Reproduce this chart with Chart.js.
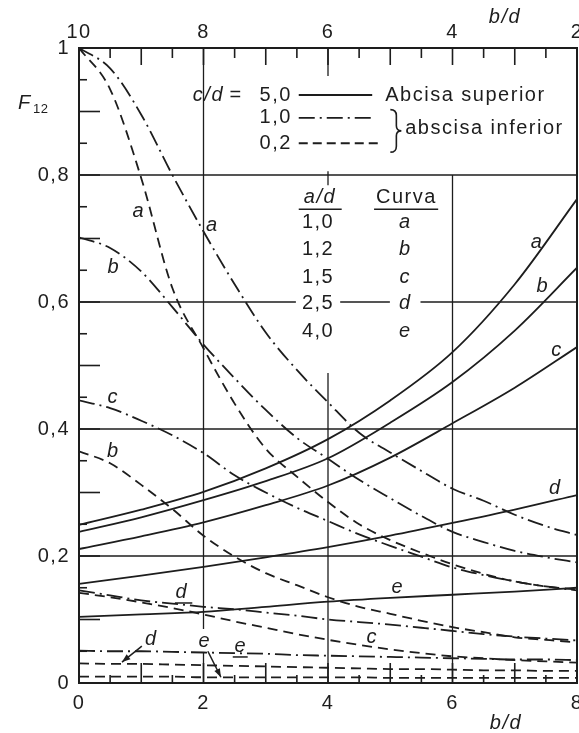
<!DOCTYPE html>
<html>
<head>
<meta charset="utf-8">
<script src="https://cdn.jsdelivr.net/npm/chart.js@4.4.1/dist/chart.umd.min.js"></script>
<style>
  html, body { margin: 0; padding: 0; background: #fff; }
  #wrap { width: 579px; height: 733px; }
</style>
</head>
<body>
<div id="wrap"><canvas id="f12" width="579" height="733"></canvas></div>
<script>
const INK = '#1d1d1d';
const FONT = '"Liberation Sans", Arial, sans-serif';

// b/d on the lower abscissa (c/d = 1,0 and 0,2)
const bdLower = [0, 0.5, 1, 1.5, 2, 2.5, 3, 3.5, 4, 4.5, 5, 5.5, 6, 6.5, 7, 7.5, 8];
// b/d on the upper abscissa (c/d = 5,0)
const bdUpper = [10, 9, 8, 7, 6, 5, 4, 3, 2];

// c/d = 5,0 (solid), one array per a/d
const cd50_a = [0.249, 0.273, 0.301, 0.338, 0.384, 0.445, 0.521, 0.628, 0.762];
const cd50_b = [0.238, 0.261, 0.288, 0.318, 0.354, 0.410, 0.474, 0.555, 0.654];
const cd50_c = [0.211, 0.231, 0.253, 0.280, 0.311, 0.355, 0.409, 0.465, 0.529];
const cd50_d = [0.156, 0.169, 0.183, 0.198, 0.214, 0.232, 0.252, 0.273, 0.296];
const cd50_e = [0.104, 0.108, 0.112, 0.120, 0.128, 0.134, 0.139, 0.144, 0.150];

// c/d = 1,0 (dash-dot)
const cd10_a = [1.000, 0.968, 0.895, 0.800, 0.711, 0.628, 0.552, 0.493, 0.442, 0.394, 0.363, 0.334, 0.306, 0.287, 0.265, 0.247, 0.233];
const cd10_b = [0.702, 0.685, 0.648, 0.592, 0.533, 0.480, 0.430, 0.386, 0.353, 0.320, 0.291, 0.263, 0.238, 0.222, 0.208, 0.198, 0.190];
const cd10_c = [0.445, 0.433, 0.413, 0.390, 0.362, 0.327, 0.300, 0.276, 0.255, 0.234, 0.216, 0.199, 0.182, 0.170, 0.160, 0.152, 0.146];
const cd10_d = [0.146, 0.138, 0.130, 0.125, 0.120, 0.116, 0.111, 0.106, 0.100, 0.096, 0.092, 0.087, 0.082, 0.077, 0.073, 0.070, 0.067];
const cd10_e = [0.051, 0.050, 0.050, 0.049, 0.048, 0.047, 0.046, 0.044, 0.043, 0.042, 0.041, 0.040, 0.039, 0.038, 0.037, 0.037, 0.036];

// c/d = 0,2 (dashed)
const cd02_a = [1.000, 0.935, 0.795, 0.622, 0.527, 0.440, 0.369, 0.325, 0.285, 0.250, 0.225, 0.205, 0.187, 0.172, 0.160, 0.152, 0.147];
const cd02_b = [0.365, 0.346, 0.312, 0.274, 0.232, 0.199, 0.173, 0.154, 0.135, 0.120, 0.109, 0.098, 0.088, 0.080, 0.072, 0.068, 0.064];
const cd02_c = [0.142, 0.135, 0.127, 0.118, 0.108, 0.097, 0.087, 0.077, 0.068, 0.060, 0.053, 0.047, 0.042, 0.039, 0.036, 0.034, 0.032];
const cd02_d = [0.031, 0.030, 0.030, 0.029, 0.028, 0.027, 0.026, 0.025, 0.024, 0.023, 0.022, 0.022, 0.021, 0.020, 0.020, 0.019, 0.019];
const cd02_e = [0.010, 0.010, 0.010, 0.010, 0.009, 0.009, 0.009, 0.009, 0.009, 0.009, 0.008, 0.008, 0.008, 0.008, 0.008, 0.008, 0.008];

const yTicks = [0, 0.2, 0.4, 0.6, 0.8, 1];
const legendRows = [['5,0', 'solid', 'Abcisa superior'], ['1,0', 'dashdot'], ['0,2', 'dashed']];
const curveTable = [['1,0', 'a'], ['1,2', 'b'], ['1,5', 'c'], ['2,5', 'd'], ['4,0', 'e']];

const DASH = [10, 6];
const DASH_DOT = [16, 5, 2, 5];

const pts = (xs, ys) => xs.map((x, i) => ({ x, y: ys[i] }));

function series(label, xs, ys, dash, axis) {
  return {
    label,
    data: pts(xs, ys),
    xAxisID: axis,
    borderColor: INK,
    borderWidth: 1.8,
    borderDash: dash,
    pointRadius: 0,
    fill: false,
    cubicInterpolationMode: 'monotone'
  };
}

const datasets = [
  series('5,0 a', bdUpper, cd50_a, [], 'xTop'),
  series('5,0 b', bdUpper, cd50_b, [], 'xTop'),
  series('5,0 c', bdUpper, cd50_c, [], 'xTop'),
  series('5,0 d', bdUpper, cd50_d, [], 'xTop'),
  series('5,0 e', bdUpper, cd50_e, [], 'xTop'),
  series('1,0 a', bdLower, cd10_a, DASH_DOT, 'x'),
  series('1,0 b', bdLower, cd10_b, DASH_DOT, 'x'),
  series('1,0 c', bdLower, cd10_c, DASH_DOT, 'x'),
  series('1,0 d', bdLower, cd10_d, DASH_DOT, 'x'),
  series('1,0 e', bdLower, cd10_e, DASH_DOT, 'x'),
  series('0,2 a', bdLower, cd02_a, DASH, 'x'),
  series('0,2 b', bdLower, cd02_b, DASH, 'x'),
  series('0,2 c', bdLower, cd02_c, DASH, 'x'),
  series('0,2 d', bdLower, cd02_d, DASH, 'x'),
  series('0,2 e', bdLower, cd02_e, DASH, 'x')
];

// letters next to the curves (lower b/d, F12)
const curveTags = [
  ['a', 0.96, 0.742], ['a', 2.14, 0.721], ['b', 0.56, 0.654], ['c', 0.55, 0.450], ['b', 0.55, 0.364],
  ['a', 7.36, 0.694], ['b', 7.45, 0.624], ['c', 7.68, 0.524], ['d', 7.65, 0.307], ['e', 5.12, 0.150],
  ['d', 1.65, 0.143], ['d', 1.16, 0.068], ['e', 2.02, 0.065], ['e', 2.60, 0.057], ['c', 4.71, 0.072]
];
const tagUnderlines = [[1.54, 1.82, 0.126], [2.47, 2.71, 0.041]];
const tagArrows = [[1.01, 0.058, 0.69, 0.033], [2.07, 0.050, 2.28, 0.009]];

// partial vertical rules: [b/d, from F12, to F12]
const ruleX = [[2, 1, 0.085], [2, 0.048, 0], [4, 1, 0.956], [4, 0.806, 0.784], [4, 0.488, 0], [6, 0.8, 0]];
const ruleY = [0.2, 0.4, 0.6, 0.8];

function seg(ctx, x1, y1, x2, y2) {
  ctx.beginPath();
  ctx.moveTo(x1, y1);
  ctx.lineTo(x2, y2);
  ctx.stroke();
}

const frame = {
  id: 'frame',
  beforeDraw(chart) {
    chart.ctx.letterSpacing = '1.5px';
  },
  beforeDatasetsDraw(chart) {
    const { ctx, chartArea: a, scales: { x, y } } = chart;
    ctx.save();
    ctx.strokeStyle = INK;
    ctx.lineWidth = 1.3;
    ruleY.forEach(v => seg(ctx, a.left, y.getPixelForValue(v), a.right, y.getPixelForValue(v)));
    ruleX.forEach(([v, f, t]) => seg(ctx, x.getPixelForValue(v), y.getPixelForValue(f), x.getPixelForValue(v), y.getPixelForValue(t)));

    // inward ticks on the bottom and top axes, every 0,5
    ctx.lineWidth = 1.6;
    for (let i = 1; i < 16; i++) {
      const px = x.getPixelForValue(i / 2);
      const whole = i % 2 === 0;
      seg(ctx, px, a.bottom, px, a.bottom - (whole ? 20 : 8));
      seg(ctx, px, a.top, px, a.top + (whole ? 17 : 10));
    }
    // inward ticks on the left axis, every 0,05
    for (let i = 1; i < 20; i++) {
      const py = y.getPixelForValue(i / 20);
      seg(ctx, a.left, py, a.left + (i % 2 === 0 ? 21 : 8), py);
    }

    ctx.lineWidth = 2;
    ctx.strokeRect(a.left, a.top, a.right - a.left, a.bottom - a.top);
    ctx.restore();
  }
};

const notes = {
  id: 'notes',
  afterDatasetsDraw(chart) {
    const { ctx, chartArea: a, scales: { x, y } } = chart;
    const X = v => x.getPixelForValue(v);
    const Y = v => y.getPixelForValue(v);
    ctx.save();
    ctx.letterSpacing = '1.5px';
    ctx.fillStyle = INK;
    ctx.strokeStyle = INK;
    ctx.textBaseline = 'middle';
    ctx.lineWidth = 1.5;

    // curve letters
    ctx.font = `italic 20px ${FONT}`;
    ctx.textAlign = 'center';
    curveTags.forEach(([t, bx, f]) => ctx.fillText(t, X(bx), Y(f)));
    tagUnderlines.forEach(([x1, x2, f]) => seg(ctx, X(x1), Y(f), X(x2), Y(f)));
    tagArrows.forEach(([x1, y1, x2, y2]) => {
      const px1 = X(x1), py1 = Y(y1), px2 = X(x2), py2 = Y(y2);
      seg(ctx, px1, py1, px2, py2);
      const ang = Math.atan2(py2 - py1, px2 - px1);
      ctx.beginPath();
      ctx.moveTo(px2, py2);
      ctx.lineTo(px2 - 9 * Math.cos(ang - 0.35), py2 - 9 * Math.sin(ang - 0.35));
      ctx.lineTo(px2 - 9 * Math.cos(ang + 0.35), py2 - 9 * Math.sin(ang + 0.35));
      ctx.closePath();
      ctx.fill();
    });

    // c/d key
    const rowY = [0.926, 0.890, 0.850];
    ctx.textAlign = 'right';
    ctx.font = `italic 20px ${FONT}`;
    ctx.fillText('c/d', X(2.33), Y(rowY[0]));
    ctx.font = `20px ${FONT}`;
    ctx.fillText('=', X(2.63), Y(rowY[0]));
    legendRows.forEach(([val, kind, note], i) => {
      ctx.textAlign = 'right';
      ctx.fillText(val, X(3.42), Y(rowY[i]));
      ctx.setLineDash(kind === 'solid' ? [] : kind === 'dashdot' ? DASH_DOT : [9, 5]);
      ctx.lineWidth = 1.8;
      seg(ctx, X(3.53), Y(rowY[i]), X(kind === 'dashed' ? 4.8 : 4.71), Y(rowY[i]));
      ctx.setLineDash([]);
      if (note) {
        ctx.textAlign = 'left';
        ctx.fillText(note, X(4.92), Y(rowY[i]));
      }
    });
    // brace grouping the two lower-abscissa families
    const bx = X(5.05), bt = Y(0.903), bb = Y(0.836), bm = (bt + bb) / 2;
    ctx.lineWidth = 1.6;
    ctx.beginPath();
    ctx.moveTo(bx - 3, bt);
    ctx.quadraticCurveTo(bx + 3, bt, bx + 3, bt + 6);
    ctx.lineTo(bx + 3, bm - 5);
    ctx.quadraticCurveTo(bx + 3, bm, bx + 8, bm);
    ctx.quadraticCurveTo(bx + 3, bm, bx + 3, bm + 5);
    ctx.lineTo(bx + 3, bb - 6);
    ctx.quadraticCurveTo(bx + 3, bb, bx - 3, bb);
    ctx.stroke();
    ctx.textAlign = 'left';
    ctx.fillText('abscisa inferior', X(5.24), Y(0.874));

    // a/d table
    const hy = Y(0.765), uy = Y(0.746);
    ctx.textAlign = 'center';
    ctx.font = `italic 20px ${FONT}`;
    ctx.fillText('a/d', X(3.87), hy);
    ctx.font = `20px ${FONT}`;
    ctx.fillText('Curva', X(5.26), hy);
    ctx.lineWidth = 1.5;
    seg(ctx, X(3.53), uy, X(4.22), uy);
    seg(ctx, X(4.74), uy, X(5.77), uy);
    const rowsF = [0.726, 0.682, 0.639, 0.598, 0.553];
    curveTable.forEach(([ad, letter], i) => {
      const ry = Y(rowsF[i]);
      ctx.font = `20px ${FONT}`;
      let w = ctx.measureText(ad).width;
      ctx.fillStyle = '#fff';
      ctx.fillRect(X(3.84) - w / 2 - 6, ry - 9, w + 12, 18);
      ctx.font = `italic 20px ${FONT}`;
      const lw = ctx.measureText(letter).width;
      ctx.fillRect(X(5.24) - lw / 2 - 9, ry - 9, lw + 18, 18);
      ctx.fillStyle = INK;
      ctx.font = `20px ${FONT}`;
      ctx.fillText(ad, X(3.84), ry);
      ctx.font = `italic 20px ${FONT}`;
      ctx.fillText(letter, X(5.24), ry);
    });

    // axis titles
    ctx.font = `italic 20px ${FONT}`;
    ctx.textAlign = 'center';
    ctx.fillText('b/d', a.right - 72, a.top - 31);
    ctx.fillText('b/d', a.right - 71, a.bottom + 40);
    ctx.textAlign = 'left';
    ctx.fillText('F', a.left - 61, Y(0.912));
    ctx.font = `13px ${FONT}`;
    ctx.letterSpacing = '0.5px';
    ctx.fillText('12', a.left - 46, Y(0.912) + 6);
    ctx.restore();
  }
};

const tickFont = { family: FONT, size: 20 };

new Chart(document.getElementById('f12'), {
  type: 'line',
  data: { datasets },
  options: {
    responsive: false,
    animation: false,
    devicePixelRatio: 1,
    layout: { padding: { right: 2 } },
    plugins: { legend: { display: false }, tooltip: { enabled: false } },
    scales: {
      x: {
        type: 'linear', position: 'bottom', min: 0, max: 8,
        grid: { display: false, drawTicks: false }, border: { display: false },
        ticks: { stepSize: 2, autoSkip: false, maxRotation: 0, padding: 8, color: INK, font: tickFont },
        afterFit(s) { s.height = 50; s.paddingLeft = 0; s.paddingRight = 0; }
      },
      xTop: {
        type: 'linear', position: 'top', min: 2, max: 10, reverse: true,
        grid: { display: false, drawTicks: false }, border: { display: false },
        ticks: { stepSize: 2, autoSkip: false, maxRotation: 0, padding: 4, color: INK, font: tickFont },
        afterFit(s) { s.height = 48; s.paddingLeft = 0; s.paddingRight = 0; }
      },
      y: {
        type: 'linear', min: 0, max: 1,
        grid: { display: false, drawTicks: false }, border: { display: false },
        afterBuildTicks(s) { s.ticks = yTicks.map(v => ({ value: v })); },
        ticks: {
          padding: 9, color: INK, font: tickFont,
          callback: v => (v === 0 || v === 1) ? String(v) : v.toFixed(1).replace('.', ',')
        },
        afterFit(s) { s.width = 79; s.paddingTop = 0; s.paddingBottom = 0; }
      }
    }
  },
  plugins: [frame, notes]
});
</script>
</body>
</html>
